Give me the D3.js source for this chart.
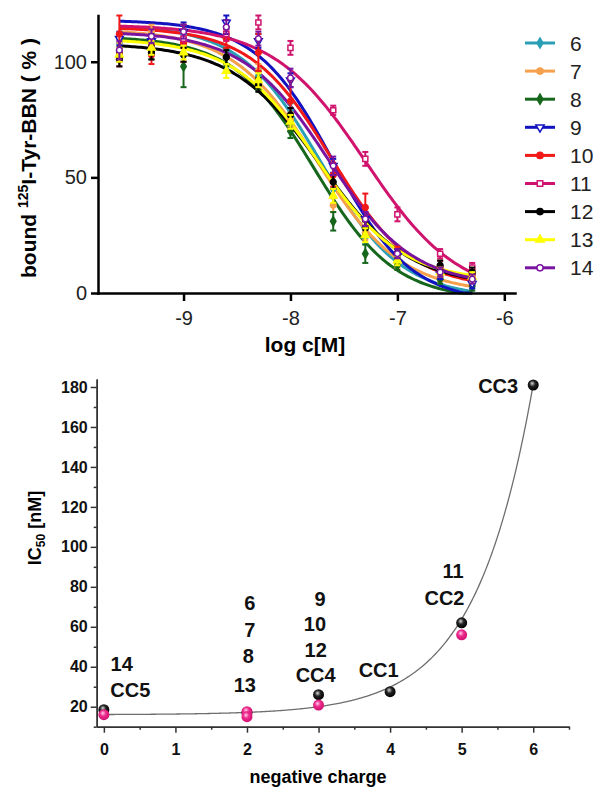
<!DOCTYPE html>
<html lang="en">
<head>
<meta charset="UTF-8">
<title>Competition binding and IC50 vs charge</title>
<script src="https://d3js.org/d3.v7.min.js"></script>
<style>
    body { margin: 0; background: #fff; }
    svg { display: block; font-family: "Liberation Sans", Arial, sans-serif; }
    .axis-top path, .axis-top line { stroke: #000; stroke-width: 2.5px; }
    .axis-top text { font-size: 20px; fill: #222; }
    .axis-low path, .axis-low line { stroke: #333; stroke-width: 1.5px; }
    .axis-low text { font-size: 16px; font-weight: bold; fill: #111; }
    .fit { fill: none; stroke-width: 3px; }
    .lbl { font-size: 20px; font-weight: bold; fill: #111; }
</style>
</head>
<body>
<svg width="597" height="787"></svg>
<script>
// ---- top panel: binding curves ----
const logConc = [-9.6, -9.3, -9, -8.6, -8.3, -8, -7.6, -7.3, -7, -6.6, -6.3];
const compounds = ["6", "7", "8", "9", "10", "11", "12", "13", "14"];
const colors = ["#2a9fb5", "#f5a04c", "#16661c", "#1212c0", "#f01818", "#d0146e", "#000000", "#ffff00", "#7a14a0"];

// mean % bound at each concentration
const b6  = [108, 109, 112, 115, 94, 79, 45, 24, 14, 6, 4];
const b7  = [104, 113, 110, 112, 96, 75, 38, 26, 13, 7, 5];
const b8  = [106, 104, 98, 102, 92, 70, 31, 17, 12, 6, 3];
const b9  = [110, 109, 113, 117, 109, 92, 55, 32, 16, 8, 4];
const b10 = [112, 103, 108, 110, 104, 83, 51, 37, 17, 11, 8];
const b11 = [102, 106, 110, 112, 117, 106, 79, 58, 34, 17, 11];
const b12 = [101, 104, 103, 102, 90, 77, 48, 28, 17, 12, 9];
const b13 = [103, 106, 104, 96, 92, 74, 42, 25, 14, 9, 7];
const b14 = [105, 111, 113, 115, 110, 93, 55, 32, 17, 9, 6];
// error bars (SD)
const e6  = [3, 3, 4, 3, 3, 3, 3, 3, 2, 2, 2];
const e7  = [4, 3, 3, 3, 3, 3, 3, 3, 2, 2, 2];
const e8  = [4, 3, 9, 4, 4, 3, 4, 4, 2, 2, 2];
const e9  = [3, 3, 4, 3, 3, 3, 3, 3, 2, 2, 2];
const e10 = [8, 4, 8, 4, 8, 9, 5, 6, 3, 3, 2];
const e11 = [4, 3, 4, 3, 3, 3, 2, 3, 3, 2, 2];
const e12 = [3, 3, 3, 3, 3, 3, 3, 3, 2, 2, 2];
const e13 = [3, 3, 3, 3, 3, 3, 3, 3, 2, 2, 2];
const e14 = [4, 3, 3, 3, 3, 4, 4, 3, 2, 2, 2];
const boundValues = [b6, b7, b8, b9, b10, b11, b12, b13, b14];
const boundErrors = [e6, e7, e8, e9, e10, e11, e12, e13, e14];

// sigmoidal fit parameters (top, bottom, logIC50, hill)
const fitTop    = [116, 114, 111, 118, 115, 116, 108, 110, 113];
const fitBottom = [-2, 0, -3, -4, 2, -2, 3, 5, 3];
const fitLogIC  = [-7.72, -7.75, -7.78, -7.6, -7.62, -7.3, -7.72, -7.75, -7.65];
const fitHill   = [1.15, 1.1, 1.15, 1.2, 1.15, 1.0, 1.05, 1.1, 1.1];
const markerTypes = [d3.symbolDiamond, d3.symbolCircle, d3.symbolDiamond, d3.symbolTriangle, d3.symbolCircle, d3.symbolSquare, d3.symbolCircle, d3.symbolTriangle, d3.symbolCircle];
const markerOpen  = [false, false, false, true, false, true, false, false, true];

const xTicksTop = [-9, -8, -7, -6];
const yTicksTop = [0, 50, 100];

// ---- bottom panel: IC50 vs negative charge ----
const chargeBlack = [0, 2, 3, 4, 5, 6];
const ic50Black   = [18.5, 17, 26, 27.5, 62, 181];
const chargePink  = [0, 2, 2, 3, 5];
const ic50Pink    = [16, 17.5, 15, 20.8, 56];
// exponential fit y = y0 + A*exp(x/t)
const expFit = { y0: 16, A: 0.0976, t: 0.807 };
const labelText   = ["CC3", "11", "CC2", "9", "10", "12", "CC4", "CC1", "6", "7", "8", "13", "14", "CC5"];
const labelCharge = [5.79, 4.88, 4.76, 3.02, 2.95, 2.96, 2.96, 3.84, 2.04, 2.04, 2.02, 1.97, 0.25, 0.37];
const labelIC50   = [180.5, 88, 74.5, 74, 61.5, 48.5, 35.8, 38.3, 72, 58.3, 45.3, 30.8, 41.3, 28.3];
const xTicksLow = [0, 1, 2, 3, 4, 5, 6];
const yTicksLow = [20, 40, 60, 80, 100, 120, 140, 160, 180];

const svg = d3.select("svg");
const plain = d => String(d);

// top scales
const x1 = d3.scaleLinear().domain([-9.8, -5.9]).range([98, 515]);
const y1 = d3.scaleLinear().domain([0, 120]).range([293, 15.5]);

const gTop = svg.append("g");

// fit curves
const fineX = d3.range(-9.6, -6.29, 0.02);
compounds.forEach((c, i) => {
    const f = x => fitBottom[i] + (fitTop[i] - fitBottom[i]) / (1 + Math.pow(10, fitHill[i] * (x - fitLogIC[i])));
    gTop.append("path")
        .datum(fineX)
        .attr("class", "fit")
        .attr("stroke", colors[i])
        .attr("d", d3.line().x(d => x1(d)).y(d => y1(Math.max(0, f(d)))));
});

// data points + error bars
compounds.forEach((c, i) => {
    const g = gTop.append("g");
    logConc.forEach((lc, j) => {
        const v = boundValues[i][j], e = boundErrors[i][j];
        const cx = x1(lc);
        g.append("line").attr("x1", cx).attr("x2", cx)
            .attr("y1", y1(v - e)).attr("y2", y1(v + e))
            .attr("stroke", colors[i]).attr("stroke-width", 2);
        [v - e, v + e].forEach(w => g.append("line")
            .attr("x1", cx - 3).attr("x2", cx + 3)
            .attr("y1", y1(w)).attr("y2", y1(w))
            .attr("stroke", colors[i]).attr("stroke-width", 2));
        g.append("path")
            .attr("transform", `translate(${cx},${y1(v)})${markerTypes[i] === d3.symbolTriangle && markerOpen[i] ? " rotate(180)" : ""}`)
            .attr("d", d3.symbol().type(markerTypes[i]).size(26)())
            .attr("fill", markerOpen[i] ? "#fff" : colors[i])
            .attr("stroke", colors[i])
            .attr("stroke-width", 1.5);
    });
});

// axes
gTop.append("g").attr("class", "axis-top")
    .attr("transform", "translate(0,293)")
    .call(d3.axisBottom(x1).tickValues(xTicksTop).tickSize(8).tickSizeOuter(0).tickFormat(plain))
    .selectAll("text").attr("dy", "1.05em");
gTop.append("g").attr("class", "axis-top")
    .attr("transform", "translate(98,0)")
    .call(d3.axisLeft(y1).tickValues(yTicksTop).tickSize(7).tickSizeOuter(0).tickFormat(plain))
    .selectAll("text").attr("dx", "-0.05em");
gTop.selectAll(".axis-top .domain").attr("stroke-linecap", "square");

// axis titles
svg.append("text")
    .attr("x", 305).attr("y", 352)
    .attr("text-anchor", "middle")
    .style("font-size", "21px").style("font-weight", "bold")
    .text("log c[M]");

const yt = svg.append("text")
    .attr("transform", "translate(36,158) rotate(-90)")
    .attr("text-anchor", "middle")
    .style("font-size", "21px").style("font-weight", "bold");
yt.append("tspan").text("bound ");
yt.append("tspan").attr("dy", -8).style("font-size", "14px").text("125");
yt.append("tspan").attr("dy", 8).text("I-Tyr-BBN ( % )");

// legend
const legend = svg.append("g").attr("transform", "translate(525,43)");
compounds.forEach((c, i) => {
    const ly = i * 28.1;
    legend.append("line")
        .attr("x1", 0).attr("x2", 30).attr("y1", ly).attr("y2", ly)
        .attr("stroke", colors[i]).attr("stroke-width", 3);
    legend.append("path")
        .attr("transform", `translate(15,${ly})${markerTypes[i] === d3.symbolTriangle && markerOpen[i] ? " rotate(180)" : ""}`)
        .attr("d", d3.symbol().type(markerTypes[i]).size(30)())
        .attr("fill", markerOpen[i] ? "#fff" : colors[i])
        .attr("stroke", colors[i]).attr("stroke-width", 1.5);
    legend.append("text")
        .attr("x", 45).attr("y", ly)
        .attr("dominant-baseline", "central")
        .style("font-size", "21px").style("fill", "#222")
        .text(c);
});

// ---- bottom panel ----
const x2 = d3.scaleLinear().domain([-0.1, 6.5]).range([96.7, 569]);
const y2 = d3.scaleLinear().domain([10, 184]).range([726.7, 379]);
const gLow = svg.append("g");

const defs = svg.append("defs");
const gradBlack = defs.append("radialGradient").attr("id", "ballBlack")
    .attr("cx", "45%").attr("cy", "40%").attr("r", "60%").attr("fx", "40%").attr("fy", "35%");
gradBlack.append("stop").attr("offset", "0%").attr("stop-color", "#d8d8d8");
gradBlack.append("stop").attr("offset", "45%").attr("stop-color", "#222");
gradBlack.append("stop").attr("offset", "100%").attr("stop-color", "#000");
const gradPink = defs.append("radialGradient").attr("id", "ballPink")
    .attr("cx", "45%").attr("cy", "40%").attr("r", "60%").attr("fx", "40%").attr("fy", "35%");
gradPink.append("stop").attr("offset", "0%").attr("stop-color", "#ffd0ea");
gradPink.append("stop").attr("offset", "45%").attr("stop-color", "#ec2a8c");
gradPink.append("stop").attr("offset", "100%").attr("stop-color", "#d01070");

// axes with minor ticks
const xMinor = d3.range(0.5, 6.6, 1);
const yMinor = d3.range(10, 181, 20);
gLow.append("g").attr("class", "axis-low")
    .attr("transform", "translate(0,726.7)")
    .call(d3.axisBottom(x2).tickValues(xMinor).tickSize(3).tickSizeOuter(0).tickFormat(""));
gLow.append("g").attr("class", "axis-low")
    .attr("transform", "translate(96.7,0)")
    .call(d3.axisLeft(y2).tickValues(yMinor).tickSize(3).tickSizeOuter(0).tickFormat(""));
gLow.append("g").attr("class", "axis-low")
    .attr("transform", "translate(0,726.7)")
    .call(d3.axisBottom(x2).tickValues(xTicksLow).tickSize(6).tickSizeOuter(0).tickFormat(plain))
    .selectAll("text").attr("dy", "1.2em");
gLow.append("g").attr("class", "axis-low")
    .attr("transform", "translate(96.7,0)")
    .call(d3.axisLeft(y2).tickValues(yTicksLow).tickSize(6).tickSizeOuter(0).tickFormat(plain));

// fit line
const fineC = d3.range(0, 6.001, 0.02);
gLow.append("path")
    .datum(fineC)
    .attr("fill", "none").attr("stroke", "#6e6e6e").attr("stroke-width", 1.3)
    .attr("d", d3.line().x(d => x2(d)).y(d => y2(expFit.y0 + expFit.A * Math.exp(d / expFit.t))));

// points
chargeBlack.forEach((c, i) => gLow.append("circle")
    .attr("cx", x2(c)).attr("cy", y2(ic50Black[i])).attr("r", 5.5)
    .attr("fill", "url(#ballBlack)"));
chargePink.forEach((c, i) => gLow.append("circle")
    .attr("cx", x2(c)).attr("cy", y2(ic50Pink[i])).attr("r", 5.5)
    .attr("fill", "url(#ballPink)"));

// labels
labelText.forEach((t, i) => gLow.append("text")
    .attr("class", "lbl")
    .attr("x", x2(labelCharge[i])).attr("y", y2(labelIC50[i]))
    .attr("text-anchor", i === 0 ? "end" : "middle")
    .attr("dominant-baseline", "central")
    .text(t));

// axis titles
svg.append("text")
    .attr("x", 318).attr("y", 783)
    .attr("text-anchor", "middle")
    .style("font-size", "18px").style("font-weight", "bold")
    .text("negative charge");

const yt2 = svg.append("text")
    .attr("transform", "translate(41,528) rotate(-90)")
    .attr("text-anchor", "middle")
    .style("font-size", "18px").style("font-weight", "bold");
yt2.append("tspan").text("IC");
yt2.append("tspan").attr("dy", 4).style("font-size", "12px").text("50");
yt2.append("tspan").attr("dy", -4).text(" [nM]");
</script>
</body>
</html>
